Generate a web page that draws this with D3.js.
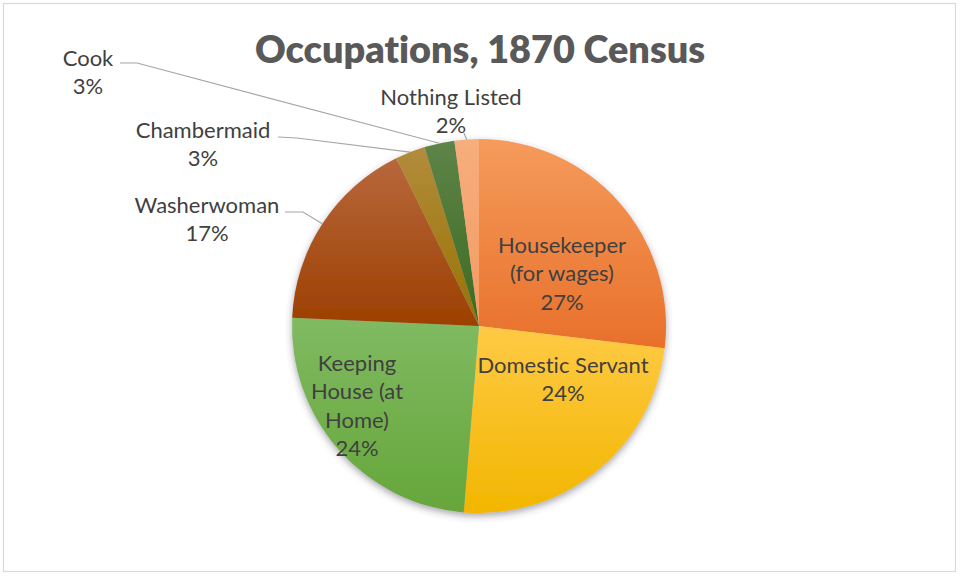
<html>
<head>
  <title>Occupations, 1870 Census</title>
  <script src="https://d3js.org/d3.v7.min.js"></script>
  <style>
    body { margin: 0; background: #fff; font-family: 'Lato', 'Open Sans', Arial, sans-serif; }
    text { font-variant-ligatures: none; font-feature-settings: "liga" 0; }
    .lbl { fill: #404040; font-size: 22px; }
    .leader { stroke: #a6a6a6; stroke-width: 1.2; fill: none; }
  </style>
</head>
<body>
  <svg id="pie" width="960" height="579"></svg>

  <script>
    // ======
    //  DATA
    // ======
    const occupations = ["Housekeeper (for wages)", "Domestic Servant", "Keeping House (at Home)",
      "Washerwoman", "Chambermaid", "Cook", "Nothing Listed"];
    const shares = [26.9, 24.4, 24.4, 17.0, 2.6, 2.6, 2.1];
    // label line breaks as Excel wrapped them
    const labelLines = [
      ["Housekeeper", "(for wages)"],
      ["Domestic Servant"],
      ["Keeping", "House (at", "Home)"],
      ["Washerwoman"],
      ["Chambermaid"],
      ["Cook"],
      ["Nothing Listed"]
    ];

    // colours: [top, bottom] of each slice gradient
    const sliceColors = [
      ["#f59b5c", "#e8702a"],
      ["#ffca45", "#f2b600"],
      ["#80ba62", "#66a63a"],
      ["#b8673d", "#9c4000"],
      ["#b28c3c", "#987200"],
      ["#5e8449", "#3d6a20"],
      ["#f7ae7c", "#f39a62"]
    ];

    // label layout: centre x, first line centre y, leader start (outside labels)
    const labelPos = [
      { x: 562, y: 245 },
      { x: 563, y: 365 },
      { x: 357, y: 363 },
      { x: 207, y: 205, lead: [[285, 212], [303, 212]] },
      { x: 203, y: 130, lead: [[278, 137], [297, 138]] },
      { x: 88, y: 58, lead: [[120, 63], [137, 63]] },
      { x: 451, y: 97, lead: [[464, 133]] }
    ];
    const lineGap = 28.5;

    // ==========
    // DIMENSIONS
    // ==========
    const svg = d3.select("svg#pie");
    const cx = 479, cy = 326, radius = 187;

    // frame
    svg.append("rect")
      .attr("x", 3.5).attr("y", 3.5)
      .attr("width", 952).attr("height", 568)
      .attr("fill", "#fff")
      .attr("stroke", "#d9d9d9")
      .attr("stroke-width", 1.2);

    const defs = svg.append("defs");
    const shadow = defs.append("filter").attr("id", "shadow")
      .attr("x", "-20%").attr("y", "-20%").attr("width", "140%").attr("height", "140%");
    shadow.append("feDropShadow")
      .attr("dx", 0).attr("dy", 3).attr("stdDeviation", 3.5)
      .attr("flood-color", "#3a3a50").attr("flood-opacity", 0.45);

    sliceColors.forEach((c, i) => {
      const g = defs.append("linearGradient").attr("id", "grad" + i)
        .attr("x1", 0).attr("y1", 0).attr("x2", 0).attr("y2", 1);
      g.append("stop").attr("offset", "0%").attr("stop-color", c[0]);
      g.append("stop").attr("offset", "100%").attr("stop-color", c[1]);
    });

    // =====
    // TITLE
    // =====
    const title = svg.append("text")
      .attr("x", 480).attr("y", 63)
      .attr("text-anchor", "middle")
      .attr("fill", "#595959")
      .style("font-weight", 800)
      .style("font-size", "40px")
      .text("Occupations, 1870 Census");
    // fit title width to the reference (~450px)
    const tw = title.node().getComputedTextLength();
    title.style("font-size", (40 * 450 / tw).toFixed(1) + "px");

    // =====
    //  PIE
    // =====
    const data = occupations.map((name, i) => ({ name, value: shares[i], i }));
    const total = d3.sum(shares);
    const pie = d3.pie().value(d => d.value).sort(null);
    const arc = d3.arc().innerRadius(0).outerRadius(radius);
    const arcs = pie(data);

    const chart = svg.append("g").attr("transform", `translate(${cx},${cy})`);
    chart.append("g").attr("filter", "url(#shadow)")
      .selectAll("path.slice")
      .data(arcs)
      .join("path").attr("class", "slice")
      .attr("d", arc)
      .attr("fill", d => `url(#grad${d.data.i})`);

    // ============
    // LEADER LINES
    // ============
    const edgePoint = d => {
      const a = (d.startAngle + d.endAngle) / 2;
      return [cx + radius * Math.sin(a), cy - radius * Math.cos(a)];
    };
    svg.append("g").selectAll("polyline")
      .data(arcs.filter(d => labelPos[d.data.i].lead))
      .join("polyline").attr("class", "leader")
      .attr("points", d => labelPos[d.data.i].lead.concat([edgePoint(d)]).map(p => p.join(",")).join(" "));

    // ======
    // LABELS
    // ======
    const labels = svg.append("g").selectAll("text")
      .data(arcs)
      .join("text").attr("class", "lbl")
      .attr("text-anchor", "middle")
      .attr("x", d => labelPos[d.data.i].x)
      .attr("y", d => labelPos[d.data.i].y);

    labels.each(function (d) {
      const t = d3.select(this);
      const p = labelPos[d.data.i];
      const lines = labelLines[d.data.i].concat([Math.round(d.data.value / total * 100) + "%"]);
      lines.forEach((line, k) => {
        t.append("tspan")
          .attr("x", p.x)
          .attr("y", p.y + k * lineGap)
          .attr("dy", "0.35em")
          .text(line);
      });
    });
  </script>
</body>
</html>
